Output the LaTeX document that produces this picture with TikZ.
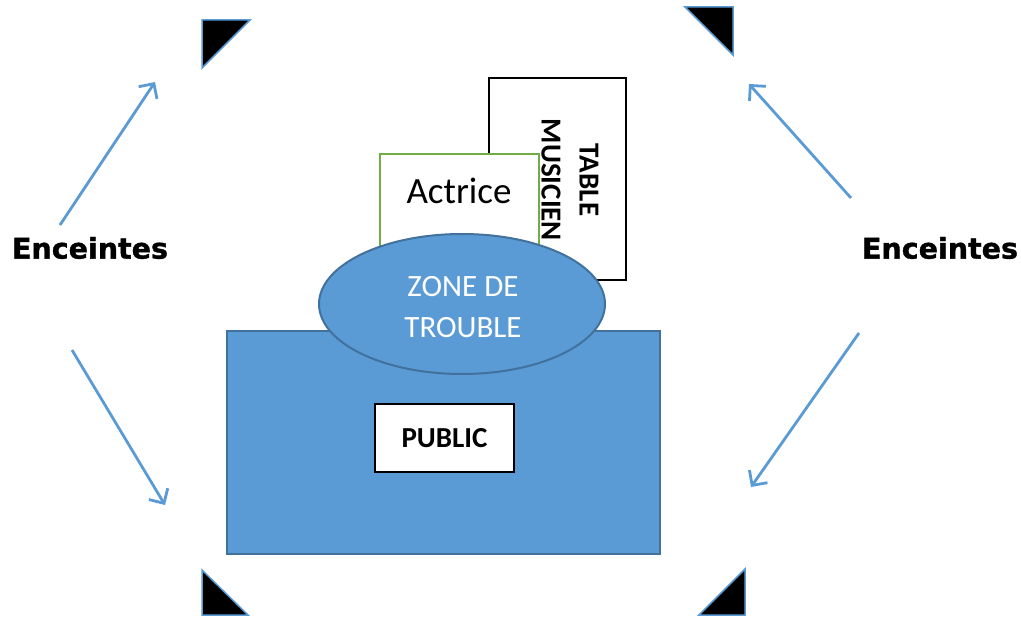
\documentclass[tikz,border=0pt]{standalone}
\usepackage{fontspec}
\setmainfont{Carlito}
\newfontfamily\labelfont{DejaVu Sans Bold}[FakeBold=1.2]
\usetikzlibrary{arrows.meta,shapes.geometric}
\definecolor{accent}{HTML}{5B9BD5}
\definecolor{accentdark}{HTML}{41719C}
\definecolor{greenline}{HTML}{70AD47}
\tikzset{
  corner/.style={fill=black, draw=accent, line width=1.5pt, line join=miter},
  spk/.style={draw=accent, line width=2.8pt, -{Straight Barb[length=11pt,width=22pt,line width=2.8pt]}},
  spklabel/.style={font=\labelfont\fontsize{28.5}{34}\selectfont, inner sep=0pt},
  bluefill/.style={fill=accent, draw=accentdark, line width=2pt},
}
\begin{document}
\begin{tikzpicture}[x=1pt, y=-1pt]
\useasboundingbox (0,0) rectangle (1021,618);

% corner speaker markers
\filldraw[corner] (202,20) -- (250,20) -- (202,68) -- cycle;
\filldraw[corner] (685,7) -- (733,7) -- (733,55) -- cycle;
\filldraw[corner] (202,570) -- (202,615) -- (248,615) -- cycle;
\filldraw[corner] (745,569) -- (745,615) -- (699,615) -- cycle;

% stage elements
\node[draw=black, line width=2pt, fill=white, minimum width=137pt, minimum height=202pt, inner sep=0pt]
  (table) at (557.5,179) {};
\node[rotate=-90, align=center, font=\fontsize{29}{38}\selectfont\bfseries, inner sep=0pt]
  (tabletxt) at (570,180) {TABLE\\MUSICIEN};
\node[draw=greenline, line width=2pt, fill=white, minimum width=159pt, minimum height=126pt, inner sep=0pt]
  (actrice) at (459.5,217) {};
\node[font=\fontsize{37}{42}\selectfont, inner sep=0pt] (actricetxt) at (459,191) {Actrice};

% audience area
\node[bluefill, minimum width=433pt, minimum height=223pt, inner sep=0pt] (public) at (443.5,442.5) {};
\node[bluefill, ellipse, minimum width=286pt, minimum height=140pt, inner sep=0pt] (zone) at (462,304) {};
\node[text=white, align=center, font=\fontsize{31}{41}\selectfont, inner sep=0pt] (zonetxt) at (463,307) {ZONE DE\\TROUBLE};
\node[draw=black, line width=2pt, fill=white, minimum width=139pt, minimum height=68pt, inner sep=0pt,
  font=\fontsize{29}{34}\selectfont\bfseries] (publictxt) at (444.5,438) {PUBLIC};

% speaker labels and arrows
\node[spklabel] (encL) at (90,248) {Enceintes};
\node[spklabel] (encR) at (940,248) {Enceintes};
\coordinate (a1s) at (60,225);  \coordinate (a1e) at (155,82);
\coordinate (a2s) at (72,350);  \coordinate (a2e) at (165,505);
\coordinate (a3s) at (851,198); \coordinate (a3e) at (749,84);
\coordinate (a4s) at (859,333); \coordinate (a4e) at (751,487);
\draw[spk] (a1s) -- (a1e);
\draw[spk] (a2s) -- (a2e);
\draw[spk] (a3s) -- (a3e);
\draw[spk] (a4s) -- (a4e);
\end{tikzpicture}
\end{document}
